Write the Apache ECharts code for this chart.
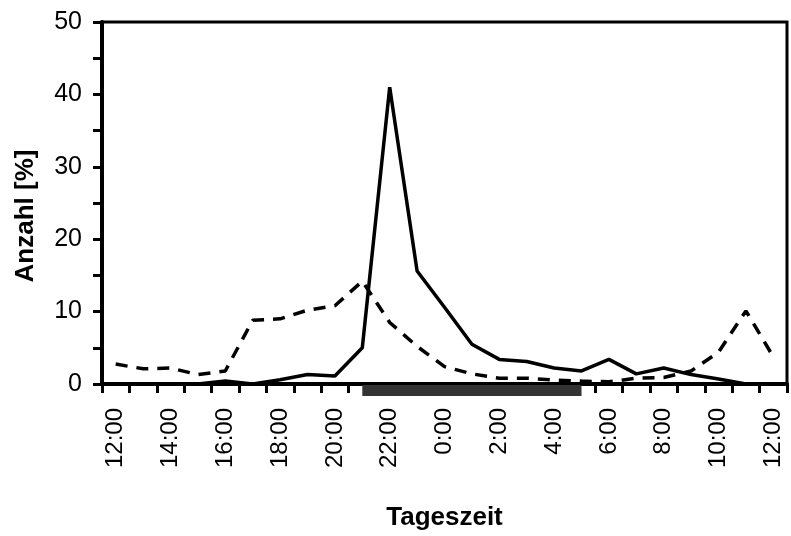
<!DOCTYPE html>
<html>
<head>
<meta charset="utf-8">
<script src="https://cdn.jsdelivr.net/npm/echarts@6/dist/echarts.min.js"></script>
<style>
html,body{margin:0;padding:0;background:#fff;}
#c{width:791px;height:536px;}
</style>
</head>
<body>
<div id="c"></div>
<script>
const hours = ['12:00','13:00','14:00','15:00','16:00','17:00','18:00','19:00','20:00','21:00','22:00','23:00','0:00','1:00','2:00','3:00','4:00','5:00','6:00','7:00','8:00','9:00','10:00','11:00','12:00'];
const solidSeries = [0, 0, 0, 0, 0.4, 0, 0.6, 1.3, 1.1, 5.0, 41.0, 15.6, 10.6, 5.5, 3.4, 3.1, 2.2, 1.8, 3.4, 1.4, 2.2, 1.3, 0.7, 0, 0];
const dashedSeries = [2.75, 2.1, 2.2, 1.3, 1.8, 8.8, 9.0, 10.2, 10.8, 14.2, 8.5, 5.2, 2.4, 1.4, 0.8, 0.8, 0.55, 0.4, 0.3, 0.8, 0.9, 1.8, 4.4, 10.1, 3.75];
const nightStart = '21:00';
const nightEnd = '5:00';
const yTicks = [0, 10, 20, 30, 40, 50];

const font = '"Liberation Sans", Arial, sans-serif';
const chart = echarts.init(document.getElementById('c'), null, {renderer: 'canvas'});
const nightData = [[hours.indexOf(nightStart), hours.indexOf(nightEnd)]];

chart.setOption({
  animation: false,
  backgroundColor: '#fff',
  grid: {left: 102, right: 4, top: 22, bottom: 151, show: true, borderColor: '#000', borderWidth: 3, backgroundColor: 'transparent'},
  xAxis: {
    type: 'category',
    data: hours,
    boundaryGap: true,
    name: 'Tageszeit',
    nameLocation: 'middle',
    nameGap: 121,
    nameTextStyle: {fontFamily: font, fontSize: 26, fontWeight: 'bold', color: '#000'},
    axisLine: {lineStyle: {color: '#000', width: 4}},
    axisTick: {show: true, length: 9, lineStyle: {color: '#000', width: 3}, interval: 0, alignWithLabel: false},
    axisLabel: {interval: 1, rotate: 90, margin: 24, fontFamily: font, fontSize: 24, color: '#000'},
    splitLine: {show: false}
  },
  yAxis: {
    type: 'value',
    min: 0, max: 50, interval: 5,
    name: 'Anzahl [%]',
    nameLocation: 'middle',
    nameGap: 63,
    nameTextStyle: {fontFamily: font, fontSize: 26, fontWeight: 'bold', color: '#000', padding: [0, 26, 0, 0]},
    axisLine: {show: true, lineStyle: {color: '#000', width: 4}},
    axisTick: {show: true, length: 9, lineStyle: {color: '#000', width: 3}},
    axisLabel: {margin: 20, fontFamily: font, fontSize: 25, color: '#000',
      formatter: v => (yTicks.indexOf(v) >= 0 ? String(v) : '')},
    splitLine: {show: false}
  },
  series: [
    {
      type: 'line', data: dashedSeries, symbol: 'none', z: 3,
      lineStyle: {color: '#000', width: 3.5, type: [12, 9]}
    },
    {
      type: 'line', data: solidSeries, symbol: 'none', z: 4,
      lineStyle: {color: '#000', width: 3.5}
    },
    {
      type: 'custom', data: nightData, clip: false, z: 10,
      renderItem: function (params, api) {
        const s = api.coord([api.value(0), 0]);
        const e = api.coord([api.value(1), 0]);
        return {type: 'rect', shape: {x: s[0], y: s[1] + 1, width: e[0] - s[0], height: 11},
          style: {fill: '#333333'}};
      }
    }
  ]
});
</script>
</body>
</html>
